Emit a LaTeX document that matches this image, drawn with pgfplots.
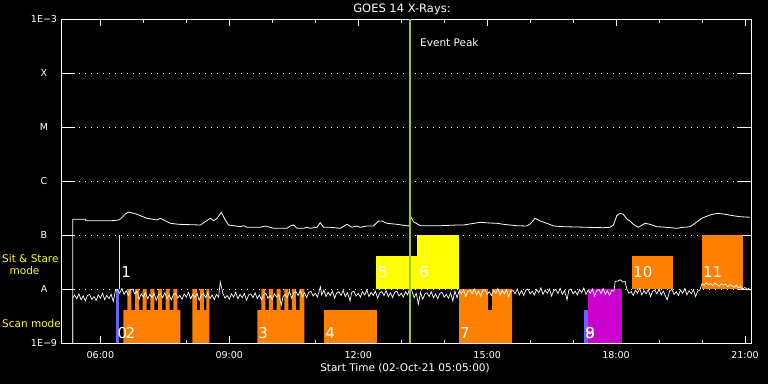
\documentclass[border=0pt]{standalone}
\usepackage{fontspec}
\setmainfont{DejaVu Sans}
\usepackage{pgfplots}
\pgfplotsset{compat=1.18}
\definecolor{obsorange}{RGB}{255,128,0}
\definecolor{obsyellow}{RGB}{255,255,0}
\definecolor{obsmag}{RGB}{204,0,204}
\definecolor{obsblue}{RGB}{102,102,255}
\definecolor{peakgreen}{RGB}{153,204,0}
\begin{document}
\begin{tikzpicture}[x=1pt,y=1pt]
\fill[black] (0,0) rectangle (768,384);
\useasboundingbox (0,0) rectangle (768,384);
\begin{axis}[
  at={(61pt,41pt)}, anchor=south west,
  scale only axis, width=690pt, height=324pt,
  xmin=5.0833, xmax=21.14, ymin=-9, ymax=-3,
  axis line style={white, line width=0.8pt},
  tick align=inside,
  major tick length=7pt, minor tick length=3.5pt,
  tick style={white, line width=0.8pt},
  xtick={6,9,12,15,18,21},
  xticklabels={06:00,09:00,12:00,15:00,18:00,21:00},
  minor xtick={7,8,10,11,13,14,16,17,19,20},
  xticklabel style={white, font=\fontsize{9.5}{11}\selectfont, anchor=center, yshift=-12pt},
  ytick={-9,-3},
  yticklabels={1E−9,1E−3},
  extra y ticks={-8,-7,-6,-5,-4},
  extra y tick labels={A,B,C,M,X},
  extra y tick style={major tick length=14pt, ymajorgrids=true},
  yticklabel style={white, font=\fontsize{9.5}{11}\selectfont, anchor=center, xshift=-17pt},
  grid style={white, dash pattern=on 0.9pt off 5.1pt, line width=0.9pt},
]
% observation blocks
\addplot[fill=obsblue, draw=none] coordinates {(6.372,-9) (6.372,-8) (6.442,-8) (6.442,-9)} -- cycle;
\addplot[fill=obsorange, draw=none] coordinates {(6.535,-9) (6.535,-8.389) (6.628,-8.389) (6.628,-8) (6.721,-8) (6.721,-8.389) (6.807,-8.389) (6.807,-8) (6.900,-8) (6.900,-8.389) (6.984,-8.389) (6.984,-8) (7.077,-8) (7.077,-8.389) (7.163,-8.389) (7.163,-8) (7.256,-8) (7.256,-8.389) (7.342,-8.389) (7.342,-8) (7.435,-8) (7.435,-8.389) (7.516,-8.389) (7.516,-8) (7.609,-8) (7.609,-8.389) (7.698,-8.389) (7.698,-8) (7.791,-8) (7.791,-8.389) (7.860,-8.389) (7.860,-9)} -- cycle;
\addplot[fill=obsorange, draw=none] coordinates {(8.140,-9) (8.140,-8) (8.244,-8) (8.244,-8.389) (8.314,-8.389) (8.314,-8) (8.407,-8) (8.407,-8.389) (8.465,-8.389) (8.465,-8) (8.535,-8) (8.535,-9)} -- cycle;
\addplot[fill=obsorange, draw=none] coordinates {(9.651,-9) (9.651,-8.389) (9.744,-8.389) (9.744,-8) (9.837,-8) (9.837,-8.389) (9.921,-8.389) (9.921,-8) (10.014,-8) (10.014,-8.389) (10.100,-8.389) (10.100,-8) (10.193,-8) (10.193,-8.389) (10.279,-8.389) (10.279,-8) (10.372,-8) (10.372,-8.389) (10.458,-8.389) (10.458,-8) (10.549,-8) (10.549,-8.389) (10.635,-8.389) (10.635,-8) (10.744,-8) (10.744,-9)} -- cycle;
\addplot[fill=obsorange, draw=none] coordinates {(11.209,-9) (11.209,-8.389) (12.442,-8.389) (12.442,-9)} -- cycle;
\addplot[fill=obsyellow, draw=none] coordinates {(12.419,-8) (12.419,-7.389) (13.372,-7.389) (13.372,-7) (14.349,-7) (14.349,-8)} -- cycle;
\addplot[fill=obsorange, draw=none] coordinates {(14.349,-9) (14.349,-8) (15.023,-8) (15.023,-8.389) (15.116,-8.389) (15.116,-8) (15.581,-8) (15.581,-9)} -- cycle;
\addplot[fill=obsblue, draw=none] coordinates {(17.256,-9) (17.256,-8.389) (17.349,-8.389) (17.349,-9)} -- cycle;
\addplot[fill=obsmag, draw=none] coordinates {(17.349,-9) (17.349,-8) (18.140,-8) (18.140,-9)} -- cycle;
\addplot[fill=obsorange, draw=none] coordinates {(18.372,-8) (18.372,-7.389) (19.326,-7.389) (19.326,-8)} -- cycle;
\addplot[fill=obsorange, draw=none] coordinates {(20.0,-8) (20.0,-7) (20.953,-7) (20.953,-8)} -- cycle;
\addplot[obsyellow, line width=1pt] coordinates {(6.449,-8) (6.449,-7)};
% block labels
\begin{scope}[every node/.style={white, inner sep=0pt, anchor=west, font=\fontsize{15}{17}\selectfont}]
\node at (axis cs:6.481,-7.685) {1};
\node at (axis cs:6.395,-8.815) {0};
\node at (axis cs:6.581,-8.815) {2};
\node at (axis cs:9.674,-8.815) {3};
\node at (axis cs:11.233,-8.815) {4};
\node at (axis cs:12.458,-7.685) {5};
\node at (axis cs:13.419,-7.685) {6};
\node at (axis cs:14.365,-8.815) {7};
\node at (axis cs:17.279,-8.815) {8};
\node at (axis cs:17.279,-8.815) {9};
\node at (axis cs:18.395,-7.685) {10};
\node at (axis cs:20.023,-7.685) {11};
\end{scope}
% GOES long channel
\addplot[white, line width=0.8pt] coordinates {(5.356,-9) (5.356,-6.709) (5.651,-6.709) (5.663,-6.735) (6.272,-6.735) (6.426,-6.722) (6.465,-6.704) (6.581,-6.611) (6.658,-6.574) (6.854,-6.617) (7.086,-6.691) (7.319,-6.722) (7.395,-6.691) (7.472,-6.722) (7.628,-6.783) (7.821,-6.802) (8.326,-6.815) (8.558,-6.691) (8.635,-6.735) (8.714,-6.691) (8.814,-6.580) (8.907,-6.722) (8.984,-6.815) (9.256,-6.846) (9.333,-6.828) (9.412,-6.857) (9.721,-6.857) (9.837,-6.833) (10.030,-6.876) (10.342,-6.876) (10.419,-6.833) (10.495,-6.815) (10.574,-6.876) (10.728,-6.876) (10.807,-6.857) (10.884,-6.876) (11.040,-6.857) (11.116,-6.772) (11.193,-6.857) (11.349,-6.857) (11.581,-6.876) (11.737,-6.802) (11.853,-6.857) (11.970,-6.833) (12.047,-6.857) (12.202,-6.833) (12.356,-6.833) (12.472,-6.741) (12.551,-6.741) (12.667,-6.783) (12.900,-6.802) (13.132,-6.828) (13.186,-6.833) (13.209,-6.643) (13.286,-6.754) (13.442,-6.828) (13.907,-6.828) (14.295,-6.815) (14.449,-6.815) (14.837,-6.765) (15.070,-6.778) (15.226,-6.783) (15.379,-6.802) (15.691,-6.828) (15.923,-6.833) (16.000,-6.796) (16.116,-6.691) (16.233,-6.741) (16.388,-6.783) (16.542,-6.833) (16.774,-6.846) (17.319,-6.857) (17.705,-6.865) (17.860,-6.857) (17.937,-6.815) (18.016,-6.643) (18.093,-6.598) (18.170,-6.617) (18.249,-6.704) (18.326,-6.741) (18.402,-6.802) (18.519,-6.857) (18.674,-6.783) (18.791,-6.802) (18.947,-6.846) (19.179,-6.857) (19.412,-6.876) (19.565,-6.857) (19.721,-6.846) (19.837,-6.783) (19.993,-6.691) (20.186,-6.630) (20.342,-6.598) (20.495,-6.611) (20.728,-6.643) (20.884,-6.661) (21.116,-6.672)};
% GOES short channel
\addplot[white, line width=0.7pt] coordinates {
(5.36,-9) (5.36,-8.16) (5.40,-8.11) (5.45,-8.18) (5.50,-8.09) (5.55,-8.20) (5.60,-8.13) (5.65,-8.22) (5.70,-8.12) (5.75,-8.10) (5.80,-8.19) (5.85,-8.14) (5.90,-8.21) (5.95,-8.11) (6.00,-8.17) (6.05,-8.08) (6.10,-8.20) (6.15,-8.12) (6.20,-8.18) (6.25,-8.10) (6.30,-8.23)
(6.35,-8.03) (6.40,-8.01) (6.45,-8.08) (6.50,-7.99) (6.55,-8.10) (6.60,-8.03) (6.65,-8.12) (6.70,-8.02) (6.75,-8.00) (6.80,-8.09) (6.85,-8.04)
(6.90,-8.19) (6.95,-8.09) (7.00,-8.15) (7.05,-8.06) (7.10,-8.18) (7.15,-8.10) (7.20,-8.16) (7.25,-8.08) (7.30,-8.21) (7.35,-8.11) (7.40,-8.09) (7.45,-8.16) (7.50,-8.07) (7.55,-8.18) (7.60,-8.11) (7.65,-8.20) (7.70,-8.10) (7.75,-8.08) (7.80,-8.17) (7.85,-8.12) (7.90,-8.19) (7.95,-8.09) (8.00,-8.15) (8.05,-8.06) (8.10,-8.18) (8.15,-8.10) (8.20,-8.16) (8.25,-8.08) (8.30,-8.21) (8.35,-8.11) (8.40,-8.09) (8.45,-8.16) (8.50,-8.07) (8.55,-8.18) (8.60,-8.11) (8.65,-8.20) (8.70,-8.10) (8.75,-8.15) (8.79,-7.87)
(8.85,-8.08) (8.90,-8.17) (8.95,-8.12) (9.00,-8.19) (9.05,-8.09) (9.10,-8.15) (9.15,-8.06) (9.20,-8.18) (9.25,-8.10) (9.30,-8.16) (9.35,-8.08) (9.40,-8.21) (9.45,-8.11) (9.50,-8.09) (9.55,-8.16) (9.60,-8.07) (9.65,-8.18) (9.70,-8.11) (9.75,-8.20) (9.80,-8.10) (9.85,-8.08) (9.90,-8.17) (9.95,-8.12) (10.00,-8.19) (10.05,-8.09) (10.10,-8.15) (10.15,-8.10) (10.21,-8.30) (10.25,-8.14) (10.30,-8.10) (10.35,-8.16)
(10.40,-8.04) (10.45,-8.17) (10.50,-8.07) (10.55,-8.05) (10.60,-8.12) (10.65,-8.03) (10.70,-8.14) (10.75,-8.07) (10.80,-8.16) (10.85,-8.06) (10.90,-8.04) (10.95,-8.13) (11.00,-8.08) (11.05,-8.15) (11.12,-7.96) (11.15,-8.11) (11.20,-8.02) (11.25,-8.14) (11.30,-8.06) (11.35,-8.12) (11.40,-8.04) (11.45,-8.17) (11.50,-8.07) (11.55,-8.05) (11.60,-8.12) (11.65,-8.03) (11.70,-8.14) (11.75,-8.07) (11.81,-8.22) (11.85,-8.06) (11.90,-8.04) (11.95,-8.13) (12.00,-8.08) (12.05,-8.15) (12.10,-8.05) (12.15,-8.11) (12.20,-8.02) (12.25,-8.14) (12.30,-8.06) (12.35,-8.12) (12.40,-8.04) (12.45,-8.17) (12.50,-8.07) (12.55,-8.05) (12.60,-8.12) (12.65,-8.03) (12.70,-8.14) (12.75,-8.07) (12.80,-8.16) (12.85,-8.06) (12.90,-8.04) (12.95,-8.13) (13.00,-8.08) (13.05,-8.15) (13.10,-8.05) (13.15,-8.11) (13.21,-7.95)
(13.25,-8.04) (13.30,-8.16) (13.35,-8.08) (13.40,-8.28) (13.45,-8.06) (13.50,-8.19) (13.55,-8.09) (13.60,-8.07) (13.65,-8.14) (13.70,-8.05) (13.75,-8.16) (13.80,-8.09) (13.85,-8.18) (13.90,-8.08) (13.95,-8.06) (14.00,-8.15) (14.05,-8.10) (14.10,-8.17) (14.15,-8.07) (14.20,-8.22) (14.25,-8.04) (14.30,-8.16)
(14.35,-8.03) (14.40,-8.09) (14.45,-8.01) (14.50,-8.14) (14.55,-8.04) (14.60,-8.02) (14.65,-8.09) (14.70,-8.00) (14.75,-8.11) (14.80,-8.04) (14.85,-8.13) (14.90,-8.03) (14.95,-8.01) (15.00,-8.10) (15.05,-8.05) (15.10,-8.12) (15.15,-8.02) (15.20,-8.08) (15.25,-7.99) (15.30,-8.11) (15.35,-8.03) (15.40,-8.09) (15.45,-8.01) (15.50,-8.14) (15.55,-8.04) (15.60,-8.02) (15.65,-8.09) (15.70,-8.00) (15.75,-8.11)
(15.80,-8.03) (15.85,-8.12) (15.90,-8.02) (15.95,-8.00) (16.00,-8.09) (16.05,-8.04) (16.10,-8.11) (16.15,-8.01) (16.20,-8.07) (16.25,-7.98) (16.30,-8.10) (16.35,-8.02) (16.40,-8.08) (16.45,-8.00) (16.50,-8.13) (16.55,-8.03) (16.60,-8.01) (16.65,-8.08) (16.70,-7.99) (16.75,-8.10) (16.80,-8.03) (16.86,-8.20) (16.90,-8.02) (16.95,-8.00) (17.00,-8.09) (17.05,-8.04) (17.10,-8.11) (17.15,-8.01) (17.20,-8.07) (17.25,-7.98) (17.30,-8.10) (17.35,-8.02) (17.40,-8.08) (17.45,-8.00) (17.50,-8.13) (17.55,-8.03) (17.60,-8.01) (17.65,-8.08) (17.70,-7.99) (17.75,-8.10) (17.80,-8.03) (17.85,-8.12) (17.90,-8.02) (17.95,-8.04)
(17.98,-7.86) (18.05,-7.85) (18.10,-7.83) (18.15,-7.87) (18.21,-7.86)
(18.25,-8.00) (18.30,-8.08) (18.35,-8.05) (18.40,-8.12) (18.45,-8.02) (18.50,-8.08) (18.55,-7.99) (18.60,-8.11) (18.65,-8.03) (18.70,-8.09) (18.75,-8.01) (18.80,-8.14) (18.85,-8.04) (18.90,-8.02) (18.95,-8.09) (19.00,-8.00) (19.05,-8.11) (19.10,-8.04) (19.15,-8.13) (19.19,-8.20) (19.25,-8.03) (19.30,-8.01) (19.35,-8.10) (19.40,-8.05) (19.45,-8.12) (19.50,-8.02) (19.55,-8.08) (19.60,-7.99) (19.65,-8.11) (19.70,-8.03) (19.75,-8.09) (19.80,-8.01) (19.85,-8.14) (19.90,-8.04) (19.95,-8.02)
(20.00,-7.90) (20.05,-7.93) (20.10,-7.88) (20.15,-7.92) (20.20,-7.90) (20.25,-7.94) (20.30,-7.89) (20.35,-7.92) (20.40,-7.95) (20.45,-7.90) (20.50,-7.93) (20.55,-7.91) (20.60,-7.96) (20.65,-7.92) (20.70,-7.94) (20.75,-7.97) (20.80,-7.93) (20.85,-7.98) (20.90,-7.95) (20.95,-8.00) (21.00,-7.97) (21.05,-8.01) (21.10,-7.98)};
% event peak
\addplot[peakgreen, line width=2.2pt] coordinates {(13.209,-9) (13.209,-3)};
\end{axis}
\begin{scope}[every node/.style={inner sep=0pt}]
\node[white, font=\fontsize{11.5}{13}\selectfont] at (402,374.5) {GOES 14 X-Rays:};
\node[white, anchor=west, font=\fontsize{10.5}{12}\selectfont] at (420,341) {Event Peak};
\node[white, font=\fontsize{10.5}{12}\selectfont] at (405,16) {Start Time (02-Oct-21 05:05:00)};
\node[obsyellow, anchor=west, font=\fontsize{10.5}{12}\selectfont] at (2,125) {Sit \& Stare};
\node[obsyellow, font=\fontsize{10.5}{12}\selectfont] at (24.5,113) {mode};
\node[obsyellow, anchor=west, font=\fontsize{10.5}{12}\selectfont] at (2,60) {Scan mode};
\end{scope}
\end{tikzpicture}
\end{document}
